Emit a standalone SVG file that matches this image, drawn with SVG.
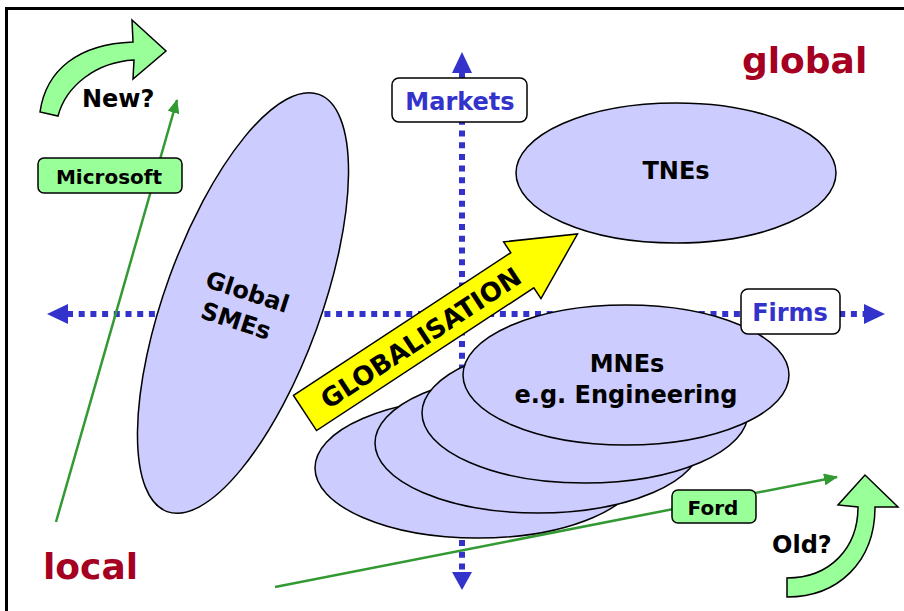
<svg xmlns="http://www.w3.org/2000/svg" width="904" height="611" viewBox="0 0 904 611">
<style>
text{font-family:"DejaVu Sans","Verdana",sans-serif;font-weight:bold}
.axis{stroke:#3333cc;stroke-width:6;stroke-dasharray:6 5.7;fill:none}
.axhead{fill:#3333cc}
.ell{fill:#ccccff;stroke:#000;stroke-width:1.5}
.gline{stroke:#339933;stroke-width:2.5;fill:none}
.gbox{fill:#99ff99;stroke:#000;stroke-width:1.5}
.wbox{fill:#fff;stroke:#000;stroke-width:1.5}
.curve{fill:#99ff99;stroke:#000;stroke-width:1.5;stroke-linejoin:miter}
.lbl{font-size:24px;fill:#000}
.ax{font-size:24px;fill:#3333cc}
.tag{font-size:20px;fill:#000}
.big{font-size:36px;fill:#a50021}
</style>
<defs>
<marker id="garrow" viewBox="0 0 14 12" refX="13" refY="6" markerWidth="14" markerHeight="12" markerUnits="userSpaceOnUse" orient="auto">
<path d="M0,0 L14,6 L0,12 z" fill="#339933"/>
</marker>
</defs>
<rect width="904" height="611" fill="#fff"/>
<path d="M6.5,611 V8.5 H904" fill="none" stroke="#000" stroke-width="3"/>

<g id="connectors">
<line class="axis" x1="67" y1="314" x2="866" y2="314"/>
<path class="axhead" d="M47,314 L68,304 L68,324 z"/>
<path class="axhead" d="M885,314 L864,304 L864,324 z"/>
<line class="axis" x1="462" y1="72" x2="462" y2="573"/>
<path class="axhead" d="M462,52 L452,73 L472,73 z"/>
<path class="axhead" d="M462,590 L452,572 L472,572 z"/>
<line class="gline" x1="56" y1="522" x2="177" y2="100" marker-end="url(#garrow)"/>
<line class="gline" x1="275" y1="587" x2="837" y2="477" marker-end="url(#garrow)"/>
</g>

<g id="microsoft">
<rect class="gbox" x="38" y="158" width="144" height="35" rx="6"/>
<text class="tag" x="109" y="184" text-anchor="middle">Microsoft</text>
</g>
<g id="ford">
<rect class="gbox" x="672" y="490" width="84" height="33" rx="6"/>
<text class="tag" x="713" y="515" text-anchor="middle">Ford</text>
</g>

<g id="global-smes">
<ellipse class="ell" cx="243" cy="303" rx="78" ry="222" transform="rotate(20 243 303)"/>
<g transform="translate(245,303) rotate(18)">
<text class="lbl" x="-1" y="-3" text-anchor="middle">Global</text>
<text class="lbl" x="-3" y="28" text-anchor="middle">SMEs</text>
</g>
</g>

<g id="mnes">
<ellipse class="ell" cx="478" cy="468" rx="163" ry="70"/>
<ellipse class="ell" cx="538" cy="443" rx="163" ry="70"/>
<ellipse class="ell" cx="585" cy="413" rx="163" ry="70"/>
<ellipse class="ell" cx="626" cy="375" rx="163" ry="70"/>
<text class="lbl" x="627" y="372" text-anchor="middle">MNEs</text>
<text class="lbl" x="626" y="403" text-anchor="middle">e.g. Engineering</text>
</g>

<g id="tnes">
<ellipse class="ell" cx="676" cy="173" rx="160" ry="70"/>
<text class="lbl" x="676" y="179" text-anchor="middle">TNEs</text>
</g>

<g id="globalisation" transform="translate(305,413) rotate(-33.3)">
<path d="M0,-21 L260,-21 L260,-34 L326,0 L260,34 L260,21 L0,21 z" fill="#ffff00" stroke="#000" stroke-width="1.5"/>
<text x="138" y="10" text-anchor="middle" style="font-size:26px" fill="#000">GLOBALISATION</text>
</g>

<g id="markets">
<rect class="wbox" x="392" y="78" width="135" height="44" rx="7"/>
<text class="ax" x="460" y="110" text-anchor="middle">Markets</text>
</g>
<g id="firms">
<rect class="wbox" x="741" y="289" width="99" height="45" rx="7"/>
<text class="ax" x="790" y="321" text-anchor="middle">Firms</text>
</g>

<g id="new">
<path class="curve" d="M40,112 C46,70 78,44 133,42 L132,20 L166,51 L133,79 L134,60 C96,62 66,86 58,116 Z"/>
<text class="lbl" x="82" y="107">New?</text>
</g>
<g id="old">
<path class="curve" d="M787,597 C838,597 875,562 875,507 L898,507 L865,475 L838,505 L858,507 C858,548 830,578 787,578 Z"/>
<text class="lbl" x="772" y="553">Old?</text>
</g>

<g id="global-label"><text class="big" x="742" y="73">global</text></g>
<g id="local-label"><text class="big" x="43" y="579">local</text></g>
</svg>
